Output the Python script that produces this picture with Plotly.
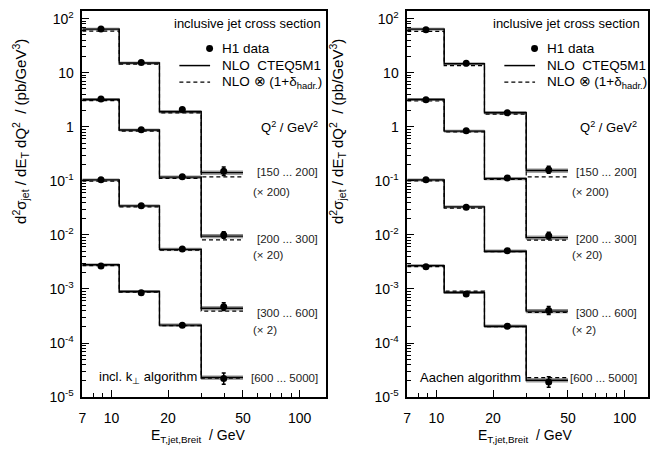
import math
import plotly.graph_objects as go

W, H = 650, 455

# ---------------- data ----------------
et_edges = [7, 11, 18, 30, 50]
et_centers = [8.8, 14.4, 23.8, 39.5]
q2_labels = ["[150 ... 200]", "[200 ... 300]", "[300 ... 600]", "[600 ... 5000]"]
q2_scales = ["(× 200)", "(× 20)", "(× 2)", ""]
nlo_band = [0.04, 0.04, 0.05, 0.07]   # relative NLO uncertainty band per E_T bin

# incl. kT algorithm (left panel)
kt_data = [
    [64, 15.4, 2.08, 0.150],
    [3.25, 0.88, 0.119, 0.0100],
    [0.105, 0.0347, 0.00547, 0.00047],
    [0.00266, 0.00085, 0.000214, 2.2e-5],
]
kt_err = [
    [0.03, 0.03, 0.04, 0.20],
    [0.03, 0.03, 0.05, 0.15],
    [0.03, 0.04, 0.05, 0.18],
    [0.04, 0.05, 0.06, 0.27],
]
kt_nlo = [
    [64, 15.1, 1.90, 0.142],
    [3.2, 0.87, 0.117, 0.0095],
    [0.104, 0.0345, 0.0054, 0.00044],
    [0.0028, 0.00090, 0.000215, 2.3e-5],
]
kt_had = [
    [59, 14.4, 1.80, 0.118],
    [3.05, 0.83, 0.111, 0.0081],
    [0.099, 0.0330, 0.0052, 0.00039],
    [0.0027, 0.00087, 0.000210, 2.25e-5],
]

# Aachen algorithm (right panel)
aa_data = [
    [62.5, 14.9, 1.81, 0.160],
    [3.15, 0.84, 0.113, 0.0097],
    [0.105, 0.0324, 0.0051, 0.00040],
    [0.00259, 0.00081, 0.000204, 1.9e-5],
]
aa_err = [
    [0.03, 0.03, 0.04, 0.16],
    [0.03, 0.03, 0.05, 0.15],
    [0.03, 0.04, 0.05, 0.18],
    [0.04, 0.05, 0.06, 0.25],
]
aa_nlo = [
    [64, 14.6, 1.82, 0.155],
    [3.2, 0.83, 0.110, 0.0089],
    [0.104, 0.0330, 0.0050, 0.00039],
    [0.0027, 0.00086, 0.000205, 2.05e-5],
]
aa_had = [
    [58, 13.5, 1.72, 0.118],
    [3.0, 0.80, 0.106, 0.0080],
    [0.100, 0.0312, 0.0049, 0.00037],
    [0.0026, 0.00091, 0.000200, 2.3e-5],
]

legend_labels = ["H1 data", "NLO\u00a0\u00a0CTEQ5M1", "NLO ⊗ (1+δ<sub>hadr.</sub>)"]

y_tickvals = [1e-5, 1e-4, 1e-3, 1e-2, 1e-1, 1, 10, 100]
y_ticktext = ["10<sup>-5</sup>", "10<sup>-4</sup>", "10<sup>-3</sup>", "10<sup>-2</sup>",
              "10<sup>-1</sup>", "1", "10", "10<sup>2</sup>"]
x_tickvals = [7, 10, 20, 50, 100]
x_ticktext = ["7", "10", "20", "50", "100"]
x_minor = [8, 9, 30, 40, 60, 70, 80, 90]

FONT = "Liberation Sans, Arial, Helvetica, sans-serif"

# ---------------- layout geometry (pixels) ----------------
y_top_px, y_bot_px = 9, 404
panels = [
    dict(x0=79, x1=325, xr=2.14, data=kt_data, err=kt_err, nlo=kt_nlo, had=kt_had,
         algo="incl. k<sub>⊥</sub> algorithm", xa="x", ya="y",
         oR=0, algo_x=94, xt_x=196, yt_x=16, leg_x=177),
    dict(x0=407, x1=650, xr=2.124, data=aa_data, err=aa_err, nlo=aa_nlo, had=aa_had,
         algo="Aachen algorithm", xa="x2", ya="y2",
         oR=322, algo_x=418, xt_x=526, yt_x=336, leg_x=505),
]


def step_y(v):
    return list(v) + [v[-1]]


def px(x):
    return x / W


def py(y):
    return 1 - y / H


fig = go.Figure()
annotations = []
shapes = []


def ann(text, x, y, xanchor="left", size=13, color="black", **kw):
    annotations.append(dict(text=text, x=px(x), y=py(y), xref="paper", yref="paper",
                            xanchor=xanchor, yanchor="middle", showarrow=False,
                            font=dict(family=FONT, size=size, color=color), **kw))


for p in panels:
    oR = p["oR"]
    for i in range(4):
        nlo = p["nlo"][i]
        lo = [v * (1 - b) for v, b in zip(nlo, nlo_band)]
        hi = [v * (1 + b) for v, b in zip(nlo, nlo_band)]
        common = dict(xaxis=p["xa"], yaxis=p["ya"], showlegend=False)
        fig.add_trace(go.Scatter(x=et_edges, y=step_y(lo), mode="lines", line_shape="hv",
                                 line=dict(color="#777", width=0.8),
                                 hoverinfo="skip", **common))
        fig.add_trace(go.Scatter(x=et_edges, y=step_y(hi), mode="lines", line_shape="hv",
                                 line=dict(color="#777", width=0.8), fill="tonexty",
                                 fillcolor="rgba(160,160,160,0.8)",
                                 hoverinfo="skip", **common))
        fig.add_trace(go.Scatter(x=et_edges, y=step_y(nlo), mode="lines", line_shape="hv",
                                 line=dict(color="black", width=1.4),
                                 name=legend_labels[1], **common))
        fig.add_trace(go.Scatter(x=et_edges, y=step_y(p["had"][i]), mode="lines", line_shape="hv",
                                 line=dict(color="black", width=1.2, dash="4px,3px"),
                                 name=legend_labels[2], **common))
        d = p["data"][i]
        e = p["err"][i]
        fig.add_trace(go.Scatter(x=et_centers, y=d, mode="markers",
                                 marker=dict(color="black", size=7),
                                 error_y=dict(type="data", array=[v * r for v, r in zip(d, e)],
                                              arrayminus=[v * r / (1 + r) for v, r in zip(d, e)],
                                              color="black", thickness=1.5, width=2),
                                 name=legend_labels[0], **common))

    # separator line at the upper bin edge
    shapes.append(dict(type="line", xref=p["xa"], yref="paper",
                       x0=math.log10(et_edges[-1]), x1=math.log10(et_edges[-1]),
                       y0=py(y_bot_px), y1=py(124),
                       line=dict(color="#aaa", width=1)))

    # legend (keys drawn as paper shapes, labels as annotations)
    lx = p["leg_x"]
    shapes.append(dict(type="circle", xref="paper", yref="paper",
                       x0=px(lx + 27), x1=px(lx + 34), y0=py(47.5 + 3.5), y1=py(47.5 - 3.5),
                       fillcolor="black", line=dict(color="black", width=0)))
    shapes.append(dict(type="line", xref="paper", yref="paper",
                       x0=px(lx), x1=px(lx + 31), y0=py(65), y1=py(65),
                       line=dict(color="black", width=1.5)))
    shapes.append(dict(type="line", xref="paper", yref="paper",
                       x0=px(lx), x1=px(lx + 31), y0=py(82), y1=py(82),
                       line=dict(color="black", width=1.2, dash="4px,3px")))
    for lab, yy in zip(legend_labels, [47.5, 65, 82]):
        ann(lab, lx + 41, yy, size=13.5)

    # texts
    ann("inclusive jet cross section", 322 + oR, 22, xanchor="right", size=13)
    ann("Q<sup>2</sup> / GeV<sup>2</sup>", 319 + oR, 128, xanchor="right", size=13)
    ypos = [(174, 194), (242, 259), (318, 335), (384, None)]
    for lab, sc, (yl, ys) in zip(q2_labels, q2_scales, ypos):
        ann(lab, 319 + oR, yl, xanchor="right", size=11.5, color="#222")
        if sc:
            ann(sc, 249 + oR, ys, xanchor="left", size=11.5, color="#222")
    ann(p["algo"], p["algo_x"], 384, size=13)
    ann("E<sub>T,jet,Breit</sub>  / GeV", p["xt_x"], 444, xanchor="center", size=14)
    ann("d<sup>2</sup>σ<sub>jet</sub> / dE<sub>T</sub> dQ<sup>2</sup>  / (pb/GeV<sup>3</sup>)",
        p["yt_x"], 132, xanchor="center", size=15, textangle=-90)

ydom = [py(y_bot_px), py(y_top_px)]
axis_common = dict(type="log", showline=True, linecolor="black", linewidth=1.5, mirror=True,
                   ticks="inside", ticklen=7, tickwidth=1, tickcolor="black",
                   showgrid=False, zeroline=False,
                   tickfont=dict(family=FONT, size=14, color="black"))
y_minor = [m * 10 ** k for k in range(-5, 2) for m in range(2, 10)]

layout_axes = {}
for idx, p in enumerate(panels):
    sx = "" if idx == 0 else "2"
    layout_axes["xaxis" + sx] = dict(axis_common, domain=[px(p["x0"]), px(p["x1"])],
                                     range=[math.log10(7), p["xr"]], anchor="y" + sx,
                                     tickmode="array", tickvals=x_tickvals, ticktext=x_ticktext,
                                     ticklabelstandoff=7,
                                     minor=dict(tickmode="array", tickvals=x_minor, ticks="inside",
                                                ticklen=4, tickcolor="black"))
    layout_axes["yaxis" + sx] = dict(axis_common, domain=ydom, range=[-5, 2.145], anchor="x" + sx,
                                     tickmode="array", tickvals=y_tickvals, ticktext=y_ticktext,
                                     ticklabelstandoff=4,
                                     minor=dict(tickmode="array", tickvals=y_minor, ticks="inside",
                                                ticklen=4, tickcolor="black"))

fig.update_layout(
    width=W, height=H, margin=dict(l=0, r=0, t=0, b=0),
    paper_bgcolor="white", plot_bgcolor="white",
    showlegend=False,
    annotations=annotations, shapes=shapes,
    **layout_axes,
)

fig.write_html("out.html", config={"displayModeBar": False},
               post_script="document.body.style.margin='0';")
